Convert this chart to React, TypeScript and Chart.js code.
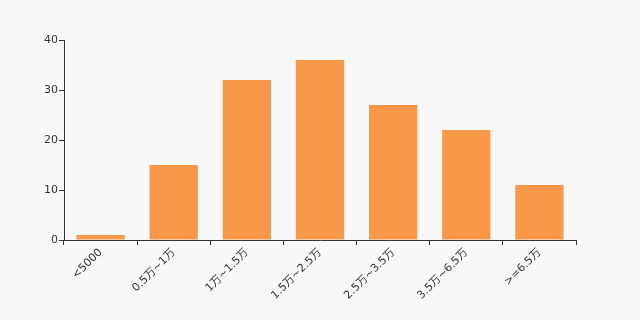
import React, { useEffect, useRef } from "react";
import { Chart, registerables } from "chart.js";

Chart.register(...registerables);

const categories = ["<5000", "0.5万~1万", "1万~1.5万", "1.5万~2.5万", "2.5万~3.5万", "3.5万~6.5万", ">=6.5万"];
const values = [1, 15, 32, 36, 27, 22, 11];
const yTicks = [0, 10, 20, 30, 40];

export default function App() {
  const ref = useRef<HTMLCanvasElement>(null);
  useEffect(() => {
    document.body.style.margin = "0";
    document.body.style.background = "#f8f8f8";
    const font = { family: "'DejaVu Sans', 'Noto Sans CJK SC', sans-serif", size: 11 };
    const chart = new Chart(ref.current!, {
      type: "bar",
      data: {
        labels: categories,
        datasets: [
          {
            data: values,
            backgroundColor: "#f7984a",
            barPercentage: 1,
            categoryPercentage: 0.66,
          },
        ],
      },
      options: {
        animation: false,
        responsive: false,
        layout: { padding: { top: 40, right: 64, left: 0, bottom: 0 } },
        plugins: { legend: { display: false }, tooltip: { enabled: false } },
        scales: {
          x: {
            grid: { display: true, drawOnChartArea: false, tickLength: 5, color: "#333", offset: true },
            border: { color: "#333" },
            ticks: { color: "#333", font, minRotation: 45, maxRotation: 45, autoSkip: false, padding: 1 },
            afterFit: (s: any) => { s.height = 80; },
          },
          y: {
            min: 0,
            max: 40,
            afterBuildTicks: (s: any) => { s.ticks = yTicks.map((v) => ({ value: v })); },
            grid: { display: true, drawOnChartArea: false, tickLength: 5, color: "#333" },
            border: { color: "#333" },
            ticks: { color: "#333", font, padding: 1 },
            afterFit: (s: any) => { s.width = 64; },
          },
        },
      },
    });
    return () => chart.destroy();
  }, []);
  return (
    <div style={{ width: 640, height: 320, background: "#f8f8f8" }}>
      <canvas ref={ref} width={640} height={320} style={{ display: "block" }} />
    </div>
  );
}
